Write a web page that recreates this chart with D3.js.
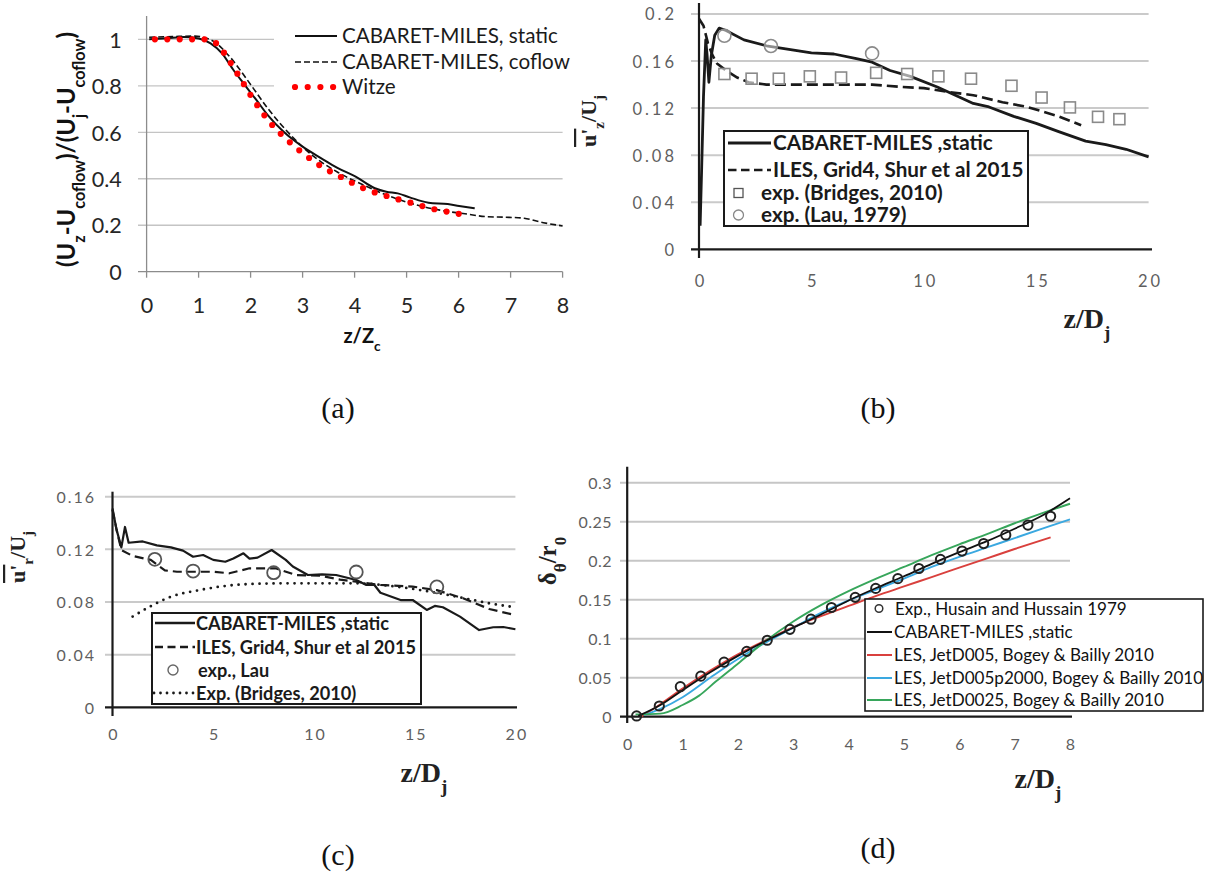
<!DOCTYPE html>
<html><head><meta charset="utf-8">
<script src="https://cdn.jsdelivr.net/npm/d3@7"></script>
<style>body{margin:0;background:#fff}svg{display:block}</style>
</head><body>
<svg id="c" width="1210" height="874"></svg>
<script>
// ---------------- DATA ----------------
// (a) centreline velocity decay
const aXTicks = [0,1,2,3,4,5,6,7,8];
const aXTickLabels = ["0","1","2","3","4","5","6","7","8"];
const aYTicks = [0,0.2,0.4,0.6,0.8,1];
const aYTickLabels = ["0","0.2","0.4","0.6","0.8","1"];
const aStatic = [[0.05,1.0],[0.4,1.005],[0.71,1.01],[1.0,1.004],[1.23,0.983],[1.45,0.94],[1.67,0.868],[1.89,0.803],[2.11,0.739],[2.33,0.674],[2.63,0.603],[3.0,0.538],[3.36,0.488],[3.66,0.448],[4.02,0.409],[4.39,0.359],[4.61,0.344],[4.83,0.337],[5.06,0.32],[5.42,0.297],[5.79,0.291],[6.01,0.283],[6.31,0.273]];
const aCoflow = [[0.05,1.009],[0.5,1.012],[0.93,1.014],[1.1,1.008],[1.3,0.99],[1.6,0.925],[1.96,0.818],[2.33,0.703],[2.77,0.588],[3.22,0.495],[3.66,0.43],[4.17,0.373],[4.61,0.33],[5.13,0.291],[5.64,0.265],[6.16,0.248],[6.53,0.237],[6.97,0.234],[7.26,0.23],[7.63,0.211],[8.0,0.197]];
const aWitze = [[0.16,1.0],[0.6,1.0],[1.12,1.0],[1.32,0.986],[1.6,0.904],[1.84,0.818],[2.1,0.725],[2.37,0.643],[2.69,0.57],[3.05,0.502],[3.34,0.456],[3.75,0.406],[4.17,0.359],[4.61,0.326],[5.06,0.298],[5.51,0.27],[5.96,0.251],[6.2,0.24]];
const aLegend = ["CABARET-MILES, static","CABARET-MILES, coflow","Witze"];

// (b) axial rms velocity
const bXTicks = [0,5,10,15,20];
const bXTickLabels = ["0","5","10","15","20"];
const bYTicks = [0,0.04,0.08,0.12,0.16,0.2];
const bYTickLabels = ["0","0.04","0.08","0.12","0.16","0.2"];
const bStatic = [[0.05,0.02],[0.12,0.07],[0.2,0.13],[0.3,0.178],[0.36,0.165],[0.44,0.142],[0.55,0.165],[0.7,0.182],[0.9,0.188],[1.2,0.186],[2,0.178],[3,0.173],[4,0.17],[5,0.167],[6,0.166],[7,0.162],[7.7,0.159],[8.5,0.152],[9.4,0.147],[10.6,0.138],[11.5,0.13],[12.2,0.124],[12.9,0.121],[14,0.113],[15,0.107],[16,0.1],[17.2,0.092],[18.1,0.089],[19,0.085],[20,0.0786]];
const bIles = [[0,0.196],[0.2,0.19],[0.4,0.175],[0.6,0.165],[0.8,0.158],[1.2,0.152],[1.7,0.146],[2.2,0.142],[3,0.14],[5,0.14],[7.7,0.14],[9,0.138],[10,0.137],[11,0.134],[12.2,0.131],[13.5,0.125],[14.6,0.121],[16,0.113],[17,0.1055]];
const bBridges = [[1.13,0.149],[2.34,0.145],[3.55,0.145],[4.93,0.147],[6.32,0.146],[7.88,0.15],[9.26,0.149],[10.65,0.147],[12.1,0.145],[13.9,0.139],[15.24,0.129],[16.5,0.1206],[17.75,0.1126],[18.7,0.1106]];
const bLau = [[1.13,0.1815],[3.2,0.1728],[7.7,0.1665]];
const bLegend = ["CABARET-MILES ,static","ILES, Grid4, Shur et al 2015","exp. (Bridges, 2010)","exp. (Lau, 1979)"];

// (c) radial rms velocity
const cXTicks = [0,5,10,15,20];
const cXTickLabels = ["0","5","10","15","20"];
const cYTicks = [0,0.04,0.08,0.12,0.16];
const cYTickLabels = ["0","0.04","0.08","0.12","0.16"];
const cStatic = [[0,0.151],[0.2,0.135],[0.44,0.1215],[0.62,0.137],[0.8,0.125],[1.5,0.126],[2.2,0.123],[2.9,0.1215],[3.5,0.119],[4.0,0.1144],[4.5,0.1157],[5.0,0.112],[5.6,0.1106],[6.0,0.113],[6.5,0.117],[6.8,0.113],[7.2,0.1137],[7.9,0.1195],[8.6,0.112],[8.95,0.107],[9.7,0.1005],[10.4,0.101],[11.1,0.1005],[12.1,0.0967],[12.6,0.093],[13.0,0.0929],[13.3,0.087],[14.3,0.0815],[14.9,0.0815],[15.6,0.074],[16.0,0.077],[16.4,0.076],[17.25,0.0689],[18.2,0.0587],[18.9,0.0608],[19.4,0.061],[20,0.0593]];
const cIles = [[0,0.15],[0.2,0.135],[0.44,0.1195],[1.0,0.115],[1.9,0.112],[2.6,0.104],[3.2,0.103],[4.0,0.103],[5.0,0.103],[5.8,0.1018],[6.8,0.1056],[8.1,0.1056],[9.1,0.1005],[10.3,0.1],[11.3,0.097],[13.3,0.093],[14.9,0.0917],[16.1,0.089],[17.4,0.0828],[18.7,0.0747],[20,0.07]];
const cBridges = [[1.0,0.0689],[1.86,0.0765],[2.9,0.084],[4.3,0.089],[6.5,0.0934],[8.6,0.0942],[10,0.0942],[12.1,0.0942],[13.9,0.092],[15.7,0.088],[17.9,0.0815],[18.7,0.079],[20,0.076]];
const cLau = [[2.1,0.1124],[4.0,0.1035],[8.0,0.1023],[12.1,0.1028],[16.1,0.0915]];
const cLegend = ["CABARET-MILES ,static","ILES, Grid4, Shur et al 2015","exp., Lau","Exp. (Bridges, 2010)"];

// (d) momentum thickness
const dXTicks = [0,1,2,3,4,5,6,7,8];
const dXTickLabels = ["0","1","2","3","4","5","6","7","8"];
const dYTicks = [0,0.05,0.1,0.15,0.2,0.25,0.3];
const dYTickLabels = ["0","0.05","0.1","0.15","0.2","0.25","0.3"];
const dExp = [[0.17,0.001],[0.58,0.0137],[0.96,0.0385],[1.33,0.052],[1.75,0.07],[2.16,0.0838],[2.53,0.098],[2.94,0.112],[3.32,0.125],[3.69,0.14],[4.12,0.153],[4.49,0.1645],[4.89,0.177],[5.27,0.19],[5.66,0.2017],[6.05,0.2124],[6.44,0.222],[6.84,0.233],[7.24,0.2457],[7.65,0.257]];
const dCabaret = [[0.2,0.001],[0.6,0.015],[1,0.034],[1.5,0.057],[2,0.078],[2.5,0.097],[3,0.114],[3.5,0.131],[4,0.149],[4.5,0.165],[5,0.18],[5.5,0.196],[6,0.211],[6.5,0.225],[7,0.241],[7.5,0.258],[8,0.28]];
const dJetD005 = [[0.25,0],[0.6,0.016],[1,0.036],[1.5,0.059],[2,0.08],[2.5,0.098],[3,0.115],[3.5,0.129],[4,0.142],[4.5,0.155],[5,0.167],[5.5,0.179],[6,0.191],[6.5,0.203],[7,0.215],[7.65,0.23]];
const dJetD005p2000 = [[0.3,0.002],[0.6,0.01],[1,0.025],[1.5,0.05],[2,0.074],[2.5,0.095],[3,0.114],[3.5,0.133],[4,0.149],[4.5,0.163],[5,0.177],[5.5,0.192],[6,0.205],[6.5,0.217],[7,0.229],[7.5,0.241],[8,0.253]];
const dJetD0025 = [[0.15,0.003],[0.6,0.004],[1,0.015],[1.3,0.027],[1.6,0.045],[2,0.068],[2.5,0.097],[3,0.122],[3.5,0.143],[4,0.161],[4.5,0.177],[5,0.192],[5.5,0.207],[6,0.221],[6.5,0.234],[7,0.248],[7.5,0.261],[8,0.273]];
const dLegend = ["Exp., Husain and Hussain 1979","CABARET-MILES ,static","LES, JetD005, Bogey & Bailly 2010","LES, JetD005p2000, Bogey & Bailly 2010","LES, JetD0025, Bogey & Bailly 2010"];

const panelLabels = ["(a)","(b)","(c)","(d)"];

// ---------------- DRAWING ----------------
const svg = d3.select('#c');
svg.append('rect').attr('width',1210).attr('height',874).attr('fill','#fff');

function fit(sel, w){
  const n = sel.node();
  const l = n.getComputedTextLength();
  const fs = parseFloat(sel.attr('font-size'));
  const nf = fs * w / l;
  sel.attr('font-size', nf.toFixed(2));
  return nf;
}

function makePanel(c){
  const g = svg.append('g');
  const x = d3.scaleLinear().domain(c.xDomain).range(c.xRange);
  const y = d3.scaleLinear().domain(c.yDomain).range(c.yRange);
  // gridlines
  g.append('g').selectAll('line').data(c.yTicks.filter(v=>v>0)).join('line')
    .attr('x1', c.gridX0).attr('x2', c.xRange[1])
    .attr('y1', d=>y(d)).attr('y2', d=>y(d))
    .attr('stroke', c.gridColor).attr('stroke-width', c.gridW);
  // axis lines
  g.append('line').attr('x1', x(0)).attr('x2', x(0)).attr('y1', c.yAxisTop).attr('y2', c.yAxisBottom)
    .attr('stroke', c.axisColor).attr('stroke-width', c.axisW);
  g.append('line').attr('x1', c.gridX0).attr('x2', c.xAxisRight).attr('y1', y(0)).attr('y2', y(0))
    .attr('stroke', c.axisColor).attr('stroke-width', c.axisW);
  if (c.xTickLen){
    g.append('g').selectAll('line').data(c.xTicks).join('line')
      .attr('x1', d=>x(d)).attr('x2', d=>x(d)).attr('y1', y(0)).attr('y2', y(0)+c.xTickLen)
      .attr('stroke', c.axisColor).attr('stroke-width', c.axisW);
  }
  // tick labels via d3 axes
  const ya = g.append('g').attr('transform', `translate(${c.yLabelRight},0)`)
    .call(d3.axisLeft(y).tickValues(c.yTicks).tickSize(0).tickPadding(0)
      .tickFormat(d=>c.yTickLabels[c.yTicks.indexOf(d)]));
  ya.select('.domain').remove();
  ya.selectAll('text').attr('font-family', c.tickFont).attr('font-size', c.tickSize)
    .attr('fill', c.tickColor).attr('letter-spacing', c.tickLS||0).attr('dy','0.36em');
  const xa = g.append('g').attr('transform', `translate(${c.tickLS?c.tickLS/2:0},${c.xLabelBase})`)
    .call(d3.axisBottom(x).tickValues(c.xTicks).tickSize(0).tickPadding(0)
      .tickFormat(d=>c.xTickLabels[c.xTicks.indexOf(d)]));
  xa.select('.domain').remove();
  xa.selectAll('text').attr('y',0).attr('dy',null).attr('font-family', c.tickFont).attr('font-size', c.tickSize)
    .attr('fill', c.tickColor).attr('letter-spacing', c.tickLS||0);
  return {g,x,y};
}

function addPath(p, data, stroke, width, dash, curve, cap){
  const line = d3.line().x(d=>p.x(d[0])).y(d=>p.y(d[1])).curve(curve||d3.curveLinear);
  return p.g.append('path').datum(data).attr('d', line).attr('fill','none')
    .attr('stroke', stroke).attr('stroke-width', width)
    .attr('stroke-dasharray', dash||null).attr('stroke-linecap', cap||'butt').attr('stroke-linejoin','round');
}

function subTitle(g, tx, ty, parts, opts){
  const t = g.append('text').attr('transform', `translate(${tx},${ty})${opts.rotate?' rotate(-90)':''}`)
    .attr('text-anchor','middle').attr('font-family', opts.font).attr('font-weight', opts.weight||'bold')
    .attr('font-size', opts.size).attr('fill', opts.color||'#111');
  parts.forEach(pt=>{
    const s = t.append('tspan').text(pt.t);
    if (pt.sub) s.attr('baseline-shift','sub').attr('font-size', '68%');
    if (pt.over) s.style('text-decoration','overline');
  });
  if (opts.fitW) fit(t, opts.fitW);
  return t;
}

// ===== Panel (a) =====
const A = makePanel({
  xDomain:[0,8], xRange:[146.6,562.6], yDomain:[0,1.1], yRange:[271.7,16.1],
  yTicks:aYTicks, yTickLabels:aYTickLabels, xTicks:aXTicks, xTickLabels:aXTickLabels,
  gridX0:138, gridColor:'#c4c4c4', gridW:1.3, axisColor:'#8c8c8c', axisW:1.3,
  yAxisTop:16, yAxisBottom:271.7, xAxisRight:562.6, xTickLen:6,
  yLabelRight:121.7, xLabelBase:313, tickFont:'Lato', tickSize:21.5, tickColor:'#262626'
});
// legend background (covers gridlines)
A.g.append('rect').attr('x',274).attr('y',18).attr('width',296).attr('height',82).attr('fill','#fff');
addPath(A, aCoflow, '#111', 1.6, '6,3', d3.curveMonotoneX);
addPath(A, aStatic, '#111', 2, null, d3.curveMonotoneX);
addPath(A, aWitze, '#ff0000', 6.2, '0,12.4', d3.curveMonotoneX, 'round');
{
  const rows=[36,62,87];
  A.g.append('line').attr('x1',295).attr('x2',337).attr('y1',rows[0]).attr('y2',rows[0]).attr('stroke','#111').attr('stroke-width',2);
  A.g.append('line').attr('x1',295).attr('x2',337).attr('y1',rows[1]).attr('y2',rows[1]).attr('stroke','#111').attr('stroke-width',1.6).attr('stroke-dasharray','6,3');
  A.g.append('line').attr('x1',295).attr('x2',337).attr('y1',rows[2]).attr('y2',rows[2]).attr('stroke','#ff0000').attr('stroke-width',6.2).attr('stroke-dasharray','0,12.7').attr('stroke-linecap','round');
  const t0 = A.g.append('text').attr('x',342).attr('y',rows[0]).attr('dy','0.36em').attr('font-family','Lato').attr('font-size',19).attr('fill','#1a1a1a').text(aLegend[0]);
  const fs = fit(t0, 216);
  [1,2].forEach(i=>A.g.append('text').attr('x',342).attr('y',rows[i]).attr('dy','0.36em').attr('font-family','Lato').attr('font-size',fs.toFixed(2)).attr('fill','#1a1a1a').text(aLegend[i]));
}
subTitle(A.g, 75, 149.5, [{t:'(U'},{t:'z',sub:1},{t:'-U'},{t:'coflow',sub:1},{t:')/(U'},{t:'j',sub:1},{t:'-U'},{t:'coflow',sub:1},{t:')'}],
  {rotate:1, font:'Lato', size:24, fitW:235, color:'#111'});
subTitle(A.g, 362, 343, [{t:'z/Z'},{t:'c',sub:1}], {font:'Lato', size:20, color:'#111'});

// ===== Panel (b) =====
const B = makePanel({
  xDomain:[0,20], xRange:[699,1148.6], yDomain:[0,0.2], yRange:[249.3,14],
  yTicks:bYTicks, yTickLabels:bYTickLabels, xTicks:bXTicks, xTickLabels:bXTickLabels,
  gridX0:691, gridColor:'#cacaca', gridW:2, axisColor:'#1a1a1a', axisW:2.2,
  yAxisTop:3, yAxisBottom:258, xAxisRight:1152, xTickLen:0,
  yLabelRight:677, xLabelBase:287, tickFont:'Lato', tickSize:16.5, tickColor:'#5f5f5f', tickLS:3
});
addPath(B, bIles, '#1a1a1a', 2.6, '11,5');
addPath(B, bStatic, '#1a1a1a', 2.8);
B.g.append('g').selectAll('rect').data(bBridges).join('rect')
  .attr('x', d=>B.x(d[0])-5.5).attr('y', d=>B.y(d[1])-5.5).attr('width',11).attr('height',11)
  .attr('fill','#fff').attr('fill-opacity',0.6).attr('stroke','#8a8a8a').attr('stroke-width',1.6);
B.g.append('g').selectAll('circle').data(bLau).join('circle')
  .attr('cx', d=>B.x(d[0])).attr('cy', d=>B.y(d[1])).attr('r',6.5)
  .attr('fill','#fff').attr('fill-opacity',0.5).attr('stroke','#8a8a8a').attr('stroke-width',1.6);
{
  B.g.append('rect').attr('x',724).attr('y',131).attr('width',304).attr('height',95).attr('fill','#fff').attr('stroke','#1a1a1a').attr('stroke-width',2);
  const rows=[143,170,193,215];
  B.g.append('line').attr('x1',728).attr('x2',771).attr('y1',rows[0]).attr('y2',rows[0]).attr('stroke','#1a1a1a').attr('stroke-width',2.8);
  B.g.append('line').attr('x1',728).attr('x2',771).attr('y1',rows[1]).attr('y2',rows[1]).attr('stroke','#1a1a1a').attr('stroke-width',2.6).attr('stroke-dasharray','8.5,4.5');
  B.g.append('rect').attr('x',734).attr('y',rows[2]-4.5).attr('width',9).attr('height',9).attr('fill','none').attr('stroke','#555').attr('stroke-width',1.3);
  B.g.append('circle').attr('cx',738.5).attr('cy',rows[3]).attr('r',5).attr('fill','none').attr('stroke','#888').attr('stroke-width',1.3);
  const tx=[773,773,761,761];
  const t0 = B.g.append('text').attr('x',tx[0]).attr('y',rows[0]).attr('dy','0.36em').attr('font-family','Lato').attr('font-weight','bold').attr('font-size',18).attr('fill','#1a1a1a').text(bLegend[0]);
  const fs = fit(t0, 220);
  [1,2,3].forEach(i=>B.g.append('text').attr('x',tx[i]).attr('y',rows[i]).attr('dy','0.36em').attr('font-family','Lato').attr('font-weight','bold').attr('font-size',fs.toFixed(2)).attr('fill','#1a1a1a').text(bLegend[i]));
}
subTitle(B.g, 1087, 328, [{t:'z/D'},{t:'j',sub:1}], {font:'Liberation Serif', size:28, color:'#222'});
subTitle(B.g, 596, 121, [{t:"u'",over:1},{t:'z',sub:1},{t:'/U'},{t:'j',sub:1}], {rotate:1, font:'Liberation Serif', size:22, color:'#222'});

// ===== Panel (c) =====
const C = makePanel({
  xDomain:[0,20], xRange:[112.5,515.4], yDomain:[0,0.16], yRange:[707.3,496.7],
  yTicks:cYTicks, yTickLabels:cYTickLabels, xTicks:cXTicks, xTickLabels:cXTickLabels,
  gridX0:105, gridColor:'#cacaca', gridW:2, axisColor:'#1a1a1a', axisW:2.2,
  yAxisTop:491.7, yAxisBottom:716, xAxisRight:517, xTickLen:0,
  yLabelRight:96, xLabelBase:740, tickFont:'Lato', tickSize:16, tickColor:'#5f5f5f', tickLS:2
});
addPath(C, cBridges, '#1a1a1a', 2.8, '0,7', d3.curveMonotoneX, 'round');
addPath(C, cIles, '#1a1a1a', 2.2, '9,5');
addPath(C, cStatic, '#1a1a1a', 2.2);
C.g.append('g').selectAll('circle').data(cLau).join('circle')
  .attr('cx', d=>C.x(d[0])).attr('cy', d=>C.y(d[1])).attr('r',6.5)
  .attr('fill','none').attr('stroke','#555').attr('stroke-width',1.8);
{
  C.g.append('rect').attr('x',152).attr('y',613).attr('width',269).attr('height',91).attr('fill','#fff').attr('stroke','#1a1a1a').attr('stroke-width',2);
  const rows=[623,647,670,693];
  C.g.append('line').attr('x1',155).attr('x2',195).attr('y1',rows[0]).attr('y2',rows[0]).attr('stroke','#1a1a1a').attr('stroke-width',2.4);
  C.g.append('line').attr('x1',155).attr('x2',195).attr('y1',rows[1]).attr('y2',rows[1]).attr('stroke','#1a1a1a').attr('stroke-width',2.4).attr('stroke-dasharray','8,4.5');
  C.g.append('circle').attr('cx',173).attr('cy',rows[2]).attr('r',5).attr('fill','none').attr('stroke','#666').attr('stroke-width',1.4);
  C.g.append('line').attr('x1',154).attr('x2',195).attr('y1',rows[3]).attr('y2',rows[3]).attr('stroke','#1a1a1a').attr('stroke-width',2.8).attr('stroke-dasharray','0,6.5').attr('stroke-linecap','round');
  const tx=[196,196,198,196];
  const t0 = C.g.append('text').attr('x',tx[0]).attr('y',rows[0]).attr('dy','0.36em').attr('font-family','Lato').attr('font-weight','bold').attr('font-size',16).attr('fill','#1a1a1a').text(cLegend[0]);
  const fs = fit(t0, 193);
  [1,2,3].forEach(i=>C.g.append('text').attr('x',tx[i]).attr('y',rows[i]).attr('dy','0.36em').attr('font-family','Lato').attr('font-weight','bold').attr('font-size',fs.toFixed(2)).attr('fill','#1a1a1a').text(cLegend[i]));
}
subTitle(C.g, 424, 782, [{t:'z/D'},{t:'j',sub:1}], {font:'Liberation Serif', size:28, color:'#222'});
subTitle(C.g, 25, 557, [{t:"u'",over:1},{t:'r',sub:1},{t:'/U'},{t:'j',sub:1}], {rotate:1, font:'Liberation Serif', size:22, color:'#222'});

// ===== Panel (d) =====
const D = makePanel({
  xDomain:[0,8], xRange:[627.2,1070], yDomain:[0,0.3], yRange:[716.7,482.7],
  yTicks:dYTicks, yTickLabels:dYTickLabels, xTicks:dXTicks, xTickLabels:dXTickLabels,
  gridX0:620, gridColor:'#c6c6c6', gridW:2, axisColor:'#1a1a1a', axisW:2.2,
  yAxisTop:466.7, yAxisBottom:723, xAxisRight:1072, xTickLen:0,
  yLabelRight:612, xLabelBase:750, tickFont:'Lato', tickSize:16, tickColor:'#5f5f5f', tickLS:0.5
});
addPath(D, dJetD005, '#d9403d', 1.9, null, d3.curveMonotoneX);
addPath(D, dJetD005p2000, '#3aa8e0', 1.9, null, d3.curveMonotoneX);
addPath(D, dJetD0025, '#37a65b', 1.9, null, d3.curveMonotoneX);
addPath(D, dCabaret, '#111', 1.8, null, d3.curveMonotoneX);
D.g.append('g').selectAll('circle').data(dExp).join('circle')
  .attr('cx', d=>D.x(d[0])).attr('cy', d=>D.y(d[1])).attr('r',4.6)
  .attr('fill','none').attr('stroke','#222').attr('stroke-width',2);
{
  D.g.append('rect').attr('x',865).attr('y',599).attr('width',338).attr('height',112).attr('fill','#fff').attr('stroke','#1a1a1a').attr('stroke-width',1.6);
  const rows=[608.5,632,655,678,700];
  const cols=[null,'#111','#d9403d','#3aa8e0','#37a65b'];
  D.g.append('circle').attr('cx',879).attr('cy',rows[0]).attr('r',3.8).attr('fill','none').attr('stroke','#333').attr('stroke-width',1.5);
  [1,2,3,4].forEach(i=>D.g.append('line').attr('x1',867).attr('x2',892).attr('y1',rows[i]).attr('y2',rows[i]).attr('stroke',cols[i]).attr('stroke-width',2));
  const t0 = D.g.append('text').attr('x',895).attr('y',rows[0]).attr('dy','0.36em').attr('font-family','Lato').attr('font-size',16).attr('fill','#111').text(dLegend[0]);
  const fs = fit(t0, 232);
  [1,2,3,4].forEach(i=>D.g.append('text').attr('x',894).attr('y',rows[i]).attr('dy','0.36em').attr('font-family','Lato').attr('font-size',fs.toFixed(2)).attr('fill','#111').text(dLegend[i]));
}
subTitle(D.g, 1038, 788, [{t:'z/D'},{t:'j',sub:1}], {font:'Liberation Serif', size:28, color:'#222'});
subTitle(D.g, 556, 561, [{t:'δ'},{t:'θ',sub:1},{t:'/r'},{t:'0',sub:1}], {rotate:1, font:'Liberation Serif', size:25, color:'#222'});

// panel labels
const labelPos = [[338,418],[878,418],[338,865],[878,858]];
svg.append('g').selectAll('text').data(panelLabels).join('text')
  .attr('x',(d,i)=>labelPos[i][0]).attr('y',(d,i)=>labelPos[i][1])
  .attr('text-anchor','middle').attr('font-family','Liberation Serif').attr('font-size',30).attr('fill','#111')
  .text(d=>d);
</script>
</body></html>
